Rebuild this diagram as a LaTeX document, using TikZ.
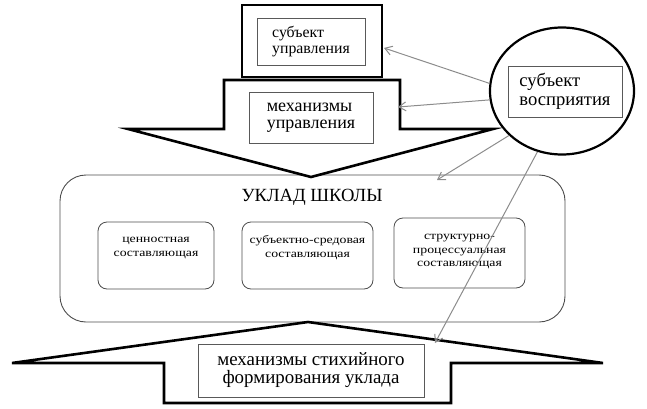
\documentclass[tikz,border=0pt]{standalone}
\usepackage{fontspec}
\setmainfont{Liberation Serif}
\newfontfamily\widefont[FakeStretch=1.22]{Liberation Serif}
\usetikzlibrary{arrows.meta,shapes.geometric}
\tikzset{
  thickline/.style={line width=2.6pt, line join=miter},
  graybox/.style={draw=black!65, line width=0.7pt, inner sep=0pt},
  smallbox/.style={draw=black!70, line width=0.8pt, rounded corners=9pt, inner sep=0pt},
  smalltext/.style={font=\widefont\fontsize{11.3}{14}\selectfont, align=center},
  linkarrow/.style={draw=black!45, line width=1pt, -{Straight Barb[length=7pt,width=9pt]}},
}
\begin{document}
\begin{tikzpicture}[x=1pt,y=-1pt]
\useasboundingbox (0,0) rectangle (647,409);
% big rounded rectangle
\node[draw=black!70, line width=0.9pt, rounded corners=26pt, minimum width=505pt, minimum height=147pt, inner sep=0pt] (uklad) at (312.5,248.5) {};
\node[font=\fontsize{18.6}{20}\selectfont] (ukladtxt) at (312,197) {УКЛАД ШКОЛЫ};
% top down arrow
\draw[thickline, fill=white] (224,80) -- (400,80) -- (400,129) -- (493,129) -- (311,177) -- (128,129) -- (224,129) -- cycle;
% bottom up arrow
\draw[thickline, fill=white] (164,403) -- (451,403) -- (451,363) -- (603,363) -- (308,322) -- (12,363) -- (164,363) -- cycle;
% top box
\node[thickline, draw, minimum width=140pt, minimum height=72pt, inner sep=0pt] (top) at (312,41) {};
\node[graybox, minimum width=108pt, minimum height=47pt, align=left, font=\fontsize{15.8}{15.5}\selectfont] (subupr) at (311,41.5) {субъект\\управления};
% mechanisms of management
\node[graybox, minimum width=124pt, minimum height=51pt, align=left, font=\fontsize{18}{17}\selectfont] (mech) at (311,117.5) {механизмы\\управления};
% inner components
\node[smallbox, minimum width=116pt, minimum height=67pt] (c1) at (156,255.5) {};
\node[smalltext] (c1t) at (156,248) {ценностная\\составляющая};
\node[smallbox, minimum width=131pt, minimum height=67pt] (c2) at (307.5,255.5) {};
\node[smalltext] (c2t) at (307.5,248) {субъектно-средовая\\составляющая};
\node[smallbox, minimum width=131pt, minimum height=70pt] (c3) at (459.5,253) {};
\node[smalltext, font=\widefont\fontsize{11.3}{13.5}\selectfont] (c3t) at (459.5,252) {структурно-\\процессуальная\\составляющая};
% bottom mechanisms box
\node[graybox, minimum width=226pt, minimum height=53pt, align=center, font=\fontsize{18.9}{18}\selectfont] (spont) at (311,370.5) {механизмы стихийного\\формирования уклада};
% subject of perception
\node[draw, ellipse, line width=2.2pt, minimum width=144pt, minimum height=127pt, inner sep=0pt] (circ) at (562,91) {};
\node[graybox, minimum width=114pt, minimum height=51pt, align=left, font=\fontsize{18.6}{19}\selectfont] (subvos) at (565,91.5) {субъект\\восприятия};
% arrow end points
\coordinate (e1) at (384,48);
\coordinate (e2) at (398,107);
\coordinate (e3) at (437,180);
\coordinate (e4) at (435,343);
\draw[linkarrow] (circ.174) -- (e1);
\draw[linkarrow] (circ.187) -- (e2);
\draw[linkarrow] (circ.220) -- (e3);
\draw[linkarrow] (circ.248) -- (e4);
\end{tikzpicture}
\end{document}
